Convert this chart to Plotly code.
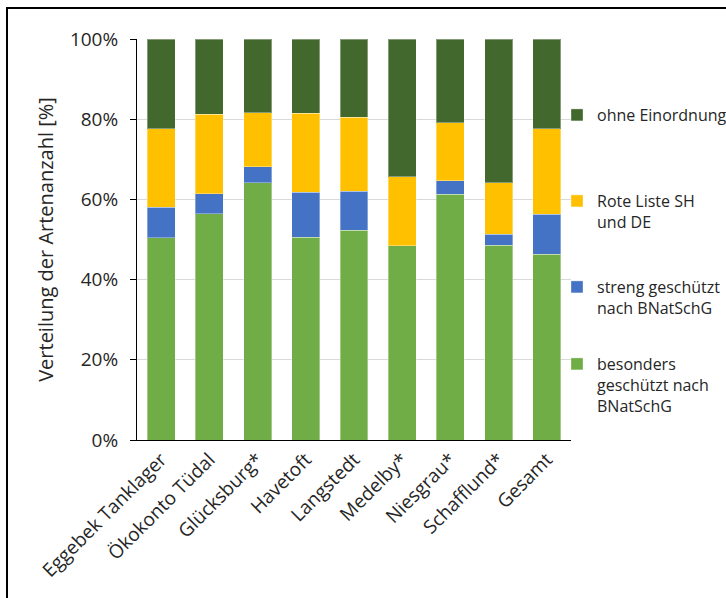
import plotly.graph_objects as go

categories = ["Eggebek Tanklager", "Ökokonto Tüdal", "Glücksburg*", "Havetoft",
              "Langstedt", "Medelby*", "Niesgrau*", "Schafflund*", "Gesamt"]
besonders = [50.4, 56.4, 64.2, 50.6, 52.3, 48.4, 61.3, 48.6, 46.3]
streng = [7.6, 5.0, 3.9, 11.2, 9.7, 0.0, 3.3, 2.7, 10.0]
rote_liste = [19.6, 19.8, 13.5, 19.7, 18.5, 17.2, 14.5, 12.8, 21.3]
ohne = [22.4, 18.8, 18.4, 18.5, 19.5, 34.4, 20.9, 35.9, 22.4]
y_ticks = [0, 20, 40, 60, 80, 100]
y_tick_labels = ["0%", "20%", "40%", "60%", "80%", "100%"]

series = [
    ("besonders<br>geschützt nach<br>BNatSchG", besonders, "#70AD47", "legend4"),
    ("streng geschützt<br>nach BNatSchG", streng, "#4472C4", "legend3"),
    ("Rote Liste SH<br>und DE", rote_liste, "#FFC000", "legend2"),
    ("ohne Einordnung", ohne, "#43682E", "legend"),
]

FONT = "Open Sans"
TXT = "#262626"

fig = go.Figure()
for name, vals, color, lg in series:
    fig.add_trace(go.Bar(
        x=categories, y=vals, name=name, legend=lg,
        marker=dict(color=color, line=dict(color="rgba(255,255,255,0.35)", width=1)),
    ))

L, R, T, B = 137, 155, 39, 158
W, H = 726, 598
pw, ph = W - L - R, H - T - B

def px_to_x(px):
    return (px - L) / pw

def py_to_y(py):
    return (H - B - py) / ph

legend_tops = {"legend": 98, "legend2": 184, "legend3": 270, "legend4": 347}
layout_legends = {}
for name, vals, color, lg in series:
    layout_legends[lg] = dict(
        x=px_to_x(557), y=py_to_y(legend_tops[lg]), xanchor="left", yanchor="top",
        bgcolor="rgba(0,0,0,0)", font=dict(family=FONT, size=16, color=TXT),
        valign="top", itemwidth=30, tracegroupgap=0,
    )

fig.update_layout(
    width=W, height=H,
    margin=dict(l=L, r=R, t=T, b=B, autoexpand=False),
    paper_bgcolor="white", plot_bgcolor="white",
    barmode="stack", bargap=0.42,
    font=dict(family=FONT, size=17, color=TXT),
    showlegend=True,
    **layout_legends,
)

fig.update_yaxes(
    range=[0, 100], tickmode="array", tickvals=y_ticks, ticktext=y_tick_labels,
    showgrid=True, gridcolor="#D9D9D9", gridwidth=1,
    showline=True, linecolor="#000000", linewidth=1,
    ticks="outside", ticklen=6, tickcolor="#000000", ticklabelstandoff=8,
    tickfont=dict(family=FONT, size=19, color=TXT),
    zeroline=False, automargin=False,
    title=dict(text="Verteilung der Artenanzahl [%]", standoff=10,
               font=dict(family=FONT, size=20, color=TXT)),
)
fig.update_xaxes(
    tickangle=-45, showline=True, linecolor="#000000", linewidth=1,
    ticks="", tickfont=dict(family=FONT, size=19, color=TXT), automargin=False,
)

fig.add_shape(type="rect", xref="paper", yref="paper",
              x0=px_to_x(7), y0=-1, x1=3, y1=py_to_y(8),
              line=dict(color="black", width=2), fillcolor="rgba(0,0,0,0)", layer="above")

fig.write_html("out.html")
